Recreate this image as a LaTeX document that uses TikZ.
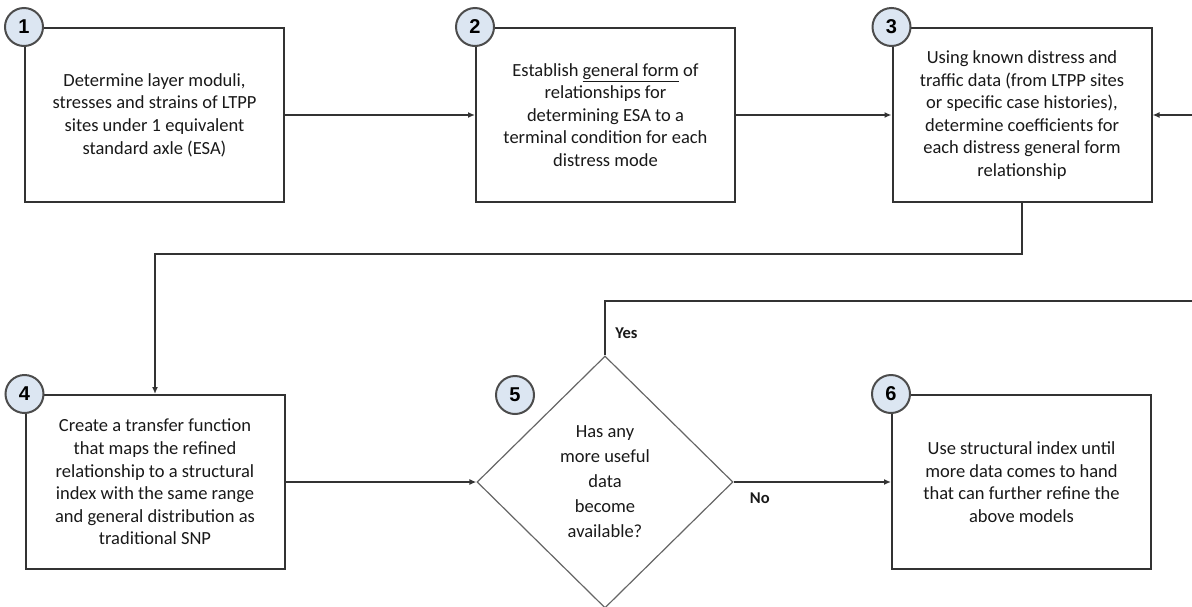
\documentclass[tikz,border=0pt]{standalone}
\usepackage{fontspec}
\setmainfont{Carlito}
\newfontfamily\numfont{Liberation Sans}
\usetikzlibrary{shapes.geometric,arrows.meta}
\definecolor{numfill}{HTML}{DCE6F2}

\begin{document}
\begin{tikzpicture}[
	x=1pt, y=-1pt,
	stepbox/.style={ draw=black!80, line width=2pt, fill=white, minimum width=259pt, minimum height=174pt, inner sep=0pt, align=center, text=black!90, font=\fontsize{18.5}{22.6}\selectfont },
	decision/.style={ diamond, draw=black!60, line width=1.2pt, minimum width=256pt, minimum height=252pt, inner sep=0pt, align=center, text=black!90, font=\fontsize{18.5}{25}\selectfont },
	stepnum/.style={ circle, draw=black!70, line width=2pt, fill=numfill, minimum size=38pt, inner sep=0pt, font=\numfont\bfseries\fontsize{20}{20}\selectfont },
	flow/.style={ draw=black!80, line width=2pt, -{Latex[length=7pt,width=6pt]} },
	answer/.style={ font=\bfseries\fontsize{16.5}{16.5}\selectfont, text=black!90 }
]

\useasboundingbox (0,0) rectangle (1192,606);

\node at (154.5,115) (s1) [stepbox] {Determine layer moduli,\\ stresses and strains of LTPP\\ sites under 1 equivalent\\ standard axle (ESA)};
\node at (605.5,115) (s2) [stepbox] {Establish \underline{general form} of\\ relationships for\\ determining ESA to a\\ terminal condition for each\\ distress mode};
\node at (1022,115) (s3) [stepbox] {Using known distress and\\ traffic data (from LTPP sites\\ or specific case histories),\\ determine coefficients for\\ each distress general form\\ relationship};
\node at (155,482) (s4) [stepbox] {Create a transfer function\\ that maps the refined\\ relationship to a structural\\ index with the same range\\ and general distribution as\\ traditional SNP};
\node at (605,482) (s5) [decision] {Has any\\ more useful\\ data\\ become\\ available?};
\node at (1021.5,482) (s6) [stepbox] {Use structural index until\\ more data comes to hand\\ that can further refine the\\ above models};

\node at (s1.north west) (n1) [stepnum] {1};
\node at (s2.north west) (n2) [stepnum] {2};
\node at (s3.north west) (n3) [stepnum] {3};
\node at (s4.north west) (n4) [stepnum] {4};
\node at (515,395) (n5) [stepnum] {5};
\node at (s6.north west) (n6) [stepnum] {6};

\coordinate (back) at (1192,115);
\coordinate (yesend) at (1192,301);

\draw[flow] (s1) -- (s2);
\draw[flow] (s2) -- (s3);
\draw[flow] (back) -- (s3);
\draw[flow] (s3.south) -- ++(0,51) -| (s4.north);
\draw[flow] (s4) -- (s5);
\draw[flow] (s5) -- node[answer, at start, anchor=north west, xshift=12pt, yshift=-6pt] {No} (s6);
\draw[flow, -] (s5.north) |- node[answer, pos=0.2, right=6pt] {Yes} (yesend);

\end{tikzpicture}
\end{document}
